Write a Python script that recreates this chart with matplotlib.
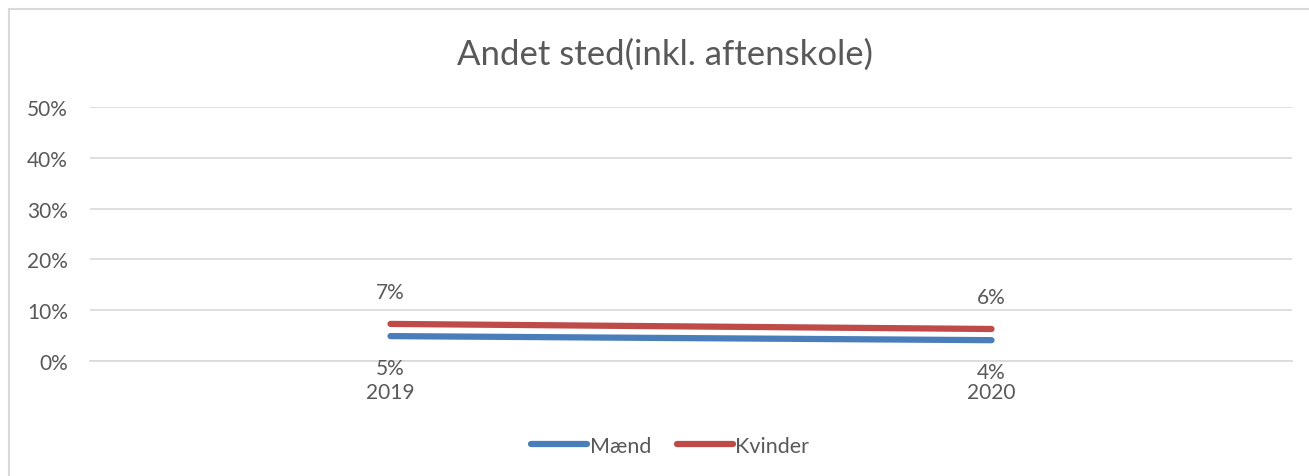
import matplotlib
matplotlib.use("Agg")
import matplotlib.pyplot as plt
from matplotlib.patches import Rectangle
from matplotlib.ticker import FuncFormatter

categories = ["2019", "2020"]
maend = [4.9, 4.1]
kvinder = [7.3, 6.3]
maend_labels = ["5%", "4%"]
kvinder_labels = ["7%", "6%"]
yticks = [0, 10, 20, 30, 40, 50]

plt.rcParams['font.family'] = ['Lato', 'DejaVu Sans']
TXT = "#595959"
BLUE = "#4A7EBB"
RED = "#BE4B48"
GRID = "#D9D9D9"

W, H = 1309, 477
fig = plt.figure(figsize=(W / 100, H / 100), dpi=100)
fig.patch.set_facecolor("white")

# chart frame
fig.patches.append(Rectangle((9 / W, -0.05), 1.2, 1 - 10 / H + 0.05,
                             transform=fig.transFigure, fill=False,
                             edgecolor=GRID, linewidth=1.5))

ax = fig.add_axes([90 / W, 1 - 362 / H, (1292 - 90) / W, (362 - 108) / H])
x = list(range(len(categories)))
ax.plot(x, maend, color=BLUE, linewidth=4.5, solid_capstyle="round", label="Mænd")
ax.plot(x, kvinder, color=RED, linewidth=4.5, solid_capstyle="round", label="Kvinder")

for xi, v, lab in zip(x, kvinder, kvinder_labels):
    ax.annotate(lab, (xi, v), xytext=(0, 23), textcoords="offset points",
                ha="center", va="center", fontsize=15, color=TXT)
for xi, v, lab in zip(x, maend, maend_labels):
    ax.annotate(lab, (xi, v), xytext=(0, -23), textcoords="offset points",
                ha="center", va="center", fontsize=15, color=TXT)

ax.set_xlim(-0.5, len(categories) - 0.5)
ax.set_ylim(0, 50)
ax.set_yticks(yticks)
ax.yaxis.set_major_formatter(FuncFormatter(lambda v, p: f"{int(v)}%"))
ax.set_xticks(x)
ax.set_xticklabels(categories)
ax.grid(axis="y", color=GRID, linewidth=1.2)
ax.set_axisbelow(True)
for s in ax.spines.values():
    s.set_visible(False)
ax.spines["bottom"].set_visible(True)
ax.spines["bottom"].set_color(GRID)
ax.spines["bottom"].set_linewidth(1.2)
ax.tick_params(axis="both", length=0, labelsize=15, labelcolor=TXT)
ax.tick_params(axis="y", pad=16)
ax.tick_params(axis="x", pad=15)

fig.text(0.508, 1 - 55 / H, "Andet sted(inkl. aftenskole)", ha="center", va="center",
         fontsize=25, color=TXT)

leg = fig.legend(loc="center", bbox_to_anchor=(0.512, 1 - 447 / H), ncol=2, frameon=False,
                 fontsize=15.5, labelcolor=TXT, handlelength=2.6, handletextpad=0.1,
                 columnspacing=1.2)

fig.savefig("out.png", dpi=100)
